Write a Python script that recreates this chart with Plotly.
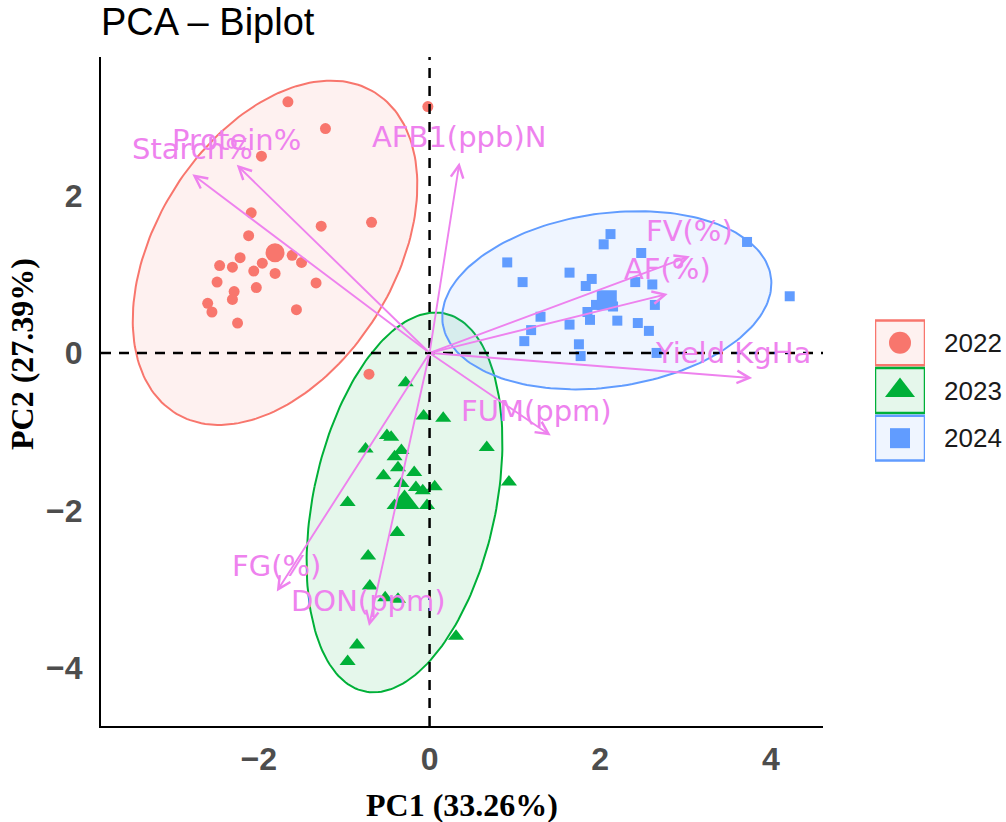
import numpy as np
import plotly.graph_objects as go

# ---- individuals (PC scores) per year ----
YEARS = ["2022", "2023", "2024"]

pc1_2022 = [-1.66, -1.22, -0.02, -1.97, -2.09, -1.27, -0.68, -2.12, -2.22, -2.46, -2.31, -1.96, -2.06,
            -1.61, -1.50, -1.81, -2.49, -2.03, -1.33, -2.29, -2.31, -2.60, -2.55, -1.56, -2.25, -0.71]
pc2_2022 = [3.19, 2.85, 3.13, 2.50, 1.78, 1.61, 1.66, 1.49, 1.21, 1.11, 1.09, 1.14, 1.04,
            1.24, 1.15, 1.01, 0.90, 0.83, 0.89, 0.78, 0.68, 0.63, 0.52, 0.55, 0.38, -0.27]

pc1_2023 = [-0.28, -0.07, 0.16, -0.50, -0.45, -0.75, 0.67, -0.33, -0.41, -0.37, -0.54, -0.18, -0.33, -0.16,
            -0.08, 0.06, 0.93, -0.96, -0.03, -0.41, -0.38, -0.72, -0.70, -0.52, -0.37, 0.31, -0.85, -0.96]
pc2_2023 = [-0.38, -0.80, -0.83, -1.05, -1.07, -1.22, -1.20, -1.24, -1.32, -1.46, -1.56, -1.52, -1.66, -1.71,
            -1.75, -1.70, -1.64, -1.90, -1.94, -1.94, -2.28, -2.58, -2.96, -3.11, -3.13, -3.60, -3.71, -3.92]

pc1_2024 = [2.12, 2.04, 2.48, 0.91, 3.72, 1.09, 1.64, 1.90, 1.83, 2.41, 2.61, 4.22, 1.95, 2.15,
            2.64, 1.30, 1.19, 1.11, 1.64, 1.88, 1.85, 2.20, 2.44, 2.57, 1.75, 1.77, 2.66]
pc2_2024 = [1.51, 1.38, 1.27, 1.15, 1.41, 0.90, 1.02, 0.94, 0.85, 0.90, 0.87, 0.72, 0.61, 0.59,
            0.61, 0.46, 0.29, 0.15, 0.36, 0.42, 0.52, 0.41, 0.38, 0.28, 0.11, -0.04, 0.00]

# ---- variables (loading arrows) ----
VARIABLES = ["Starch%", "Protein%", "AFB1(ppb)N", "FV(%)", "AF(%)",
             "Yield KgHa", "FUM(ppm)", "FG(%)", "DON(ppm)"]
VAR_PC1 = [-2.78, -2.26, 0.35, 3.05, 2.79, 3.78, 1.42, -1.79, -0.71]
VAR_PC2 = [2.27, 2.39, 2.42, 1.23, 0.75, -0.32, -1.05, -3.03, -3.47]

X_TICKS = [-2, 0, 2, 4]
Y_TICKS = [-4, -2, 0, 2]

SCORES = {
    "2022": (pc1_2022, pc2_2022),
    "2023": (pc1_2023, pc2_2023),
    "2024": (pc1_2024, pc2_2024),
}

# ---- styling ----
COLORS = {"2022": "#F8766D", "2023": "#00B038", "2024": "#619CFF"}
SYMBOLS = {"2022": "circle", "2023": "triangle-up", "2024": "square"}
PT_SIZE = {"2022": 11, "2023": 14, "2024": 10}
MEAN_SIZE = {"2022": 19, "2023": 26, "2024": 20}
KEY_SIZE = {"2022": 22, "2023": 26, "2024": 20}
VIOLET = "#EE82EE"
LABEL_NUDGE = {"Yield KgHa": -19, "FUM(ppm)": -14}

W, H = 1006, 822
ML, MR, MT, MB = 101, 0, 57, 96
PW, PH = W - ML - MR, H - MT - MB
PLOT_RIGHT = 823

# legend block geometry (pixels)
KEY_LEFT, KEY_RIGHT = 875, 925
KEY_TOP, KEY_BOTTOM = 319, 462


def rgba(hex_color, a):
    h = hex_color.lstrip("#")
    r, g, b = int(h[0:2], 16), int(h[2:4], 16), int(h[4:6], 16)
    return f"rgba({r},{g},{b},{a})"


def norm_ellipse(x, y, level=0.95, npts=200):
    """Normal-theory data ellipse (as in stat_ellipse type='norm')."""
    pts = np.column_stack([x, y])
    n = len(pts)
    center = pts.mean(axis=0)
    cov = np.cov(pts, rowvar=False)
    d2 = n - 1
    fq = d2 / 2.0 * ((1 - level) ** (-2.0 / d2) - 1.0)  # F(2, n-1) quantile
    radius = np.sqrt(2 * fq)
    vals, vecs = np.linalg.eigh(cov)
    t = np.linspace(0, 2 * np.pi, npts)
    circle = np.vstack([np.cos(t), np.sin(t)])
    ell = (vecs @ np.diag(np.sqrt(vals)) @ circle) * radius
    return ell[0] + center[0], ell[1] + center[1]


fig = go.Figure()

# ellipses
for yr in YEARS:
    xs, ys = SCORES[yr]
    ex, ey = norm_ellipse(xs, ys)
    fig.add_trace(go.Scatter(
        x=ex, y=ey, mode="lines", fill="toself",
        fillcolor=rgba(COLORS[yr], 0.1),
        line=dict(color=COLORS[yr], width=2),
        hoverinfo="skip", showlegend=False))

# individual points and group means
for yr in YEARS:
    xs, ys = SCORES[yr]
    fig.add_trace(go.Scatter(
        x=xs, y=ys, mode="markers", name=yr,
        marker=dict(symbol=SYMBOLS[yr], size=PT_SIZE[yr], color=COLORS[yr], line=dict(width=0)),
        showlegend=False))
    fig.add_trace(go.Scatter(
        x=[float(np.mean(xs))], y=[float(np.mean(ys))], mode="markers",
        marker=dict(symbol=SYMBOLS[yr], size=MEAN_SIZE[yr], color=COLORS[yr], line=dict(width=0)),
        hoverinfo="skip", showlegend=False))

# reference lines through the origin
shapes = [
    dict(type="line", xref="x", yref="paper", x0=0, x1=0, y0=0, y1=1, layer="above",
         line=dict(color="black", width=2.5, dash="10px,8px")),
    dict(type="line", xref="paper", yref="y", x0=0, x1=(PLOT_RIGHT - ML) / PW, y0=0, y1=0, layer="above",
         line=dict(color="black", width=2.5, dash="10px,8px")),
]

annotations = []
# variable arrows and their labels
for name, vx, vy in zip(VARIABLES, VAR_PC1, VAR_PC2):
    annotations.append(dict(
        x=vx, y=vy, ax=0, ay=0, xref="x", yref="y", axref="x", ayref="y",
        text="", showarrow=True, arrowhead=5, arrowsize=1.3, arrowwidth=1.9,
        arrowcolor=VIOLET, standoff=0, startstandoff=0))
    annotations.append(dict(
        x=vx, y=vy, xref="x", yref="y", text=name, showarrow=False,
        xanchor="center", yanchor="middle", xshift=LABEL_NUDGE.get(name, 0), yshift=25,
        font=dict(family="DejaVu Sans", size=29, color=VIOLET)))

# axis titles
annotations.append(dict(
    text="PC1 (33.26%)", xref="paper", yref="paper",
    x=((ML + PLOT_RIGHT) / 2 - ML) / PW, y=(H - MB - 805) / PH,
    showarrow=False, xanchor="center", yanchor="middle",
    font=dict(family="Liberation Serif", size=32, color="black", weight="bold")))
annotations.append(dict(
    text="PC2 (27.39%)", xref="paper", yref="paper",
    x=(22 - ML) / PW, y=(H - MB - 354) / PH, textangle=-90,
    showarrow=False, xanchor="center", yanchor="middle",
    font=dict(family="Liberation Serif", size=32, color="black", weight="bold")))

# legend: boxed keys on a small auxiliary axis pair, labels in paper space
n_keys = len(YEARS)
row_px = (KEY_BOTTOM - KEY_TOP) / n_keys
for i, yr in enumerate(YEARS):
    shapes.append(dict(
        type="rect", xref="x2", yref="y2", x0=0, x1=1, y0=i - 0.47, y1=i + 0.47,
        fillcolor=rgba(COLORS[yr], 0.1), line=dict(color=COLORS[yr], width=2.5), layer="below"))
    fig.add_trace(go.Scatter(
        x=[0.5], y=[i], xaxis="x2", yaxis="y2", mode="markers",
        marker=dict(symbol=SYMBOLS[yr], size=KEY_SIZE[yr], color=COLORS[yr], line=dict(width=0)),
        hoverinfo="skip", showlegend=False))
    row_center = KEY_TOP + (i + 0.5) * row_px
    annotations.append(dict(
        text=yr, xref="paper", yref="paper",
        x=(942 - ML) / PW, y=(H - MB - row_center) / PH, showarrow=False,
        xanchor="left", yanchor="middle",
        font=dict(family="Liberation Sans", size=26, color="#1A1A1A")))

tickfont = dict(family="Liberation Sans", size=32, color="#4D4D4D", weight="bold")

fig.update_layout(
    width=W, height=H,
    margin=dict(l=ML, r=MR, t=MT, b=MB),
    paper_bgcolor="white", plot_bgcolor="white",
    showlegend=False,
    title=dict(text="PCA – Biplot", x=0, xref="paper", xanchor="left",
               y=1 - 22 / H, yref="container", yanchor="middle",
               font=dict(family="Liberation Sans", size=38, color="black")),
    xaxis=dict(domain=[0, (PLOT_RIGHT - ML) / PW], range=[-3.85, 4.61],
               tickvals=X_TICKS, ticktext=[("−" if v < 0 else "") + str(abs(v)) for v in X_TICKS],
               showgrid=False, zeroline=False, showline=True, linecolor="black", linewidth=2,
               ticks="", tickfont=tickfont, ticklabelstandoff=4, fixedrange=True),
    yaxis=dict(domain=[0, 1], range=[-4.74, 3.76],
               tickvals=Y_TICKS, ticktext=[("−" if v < 0 else "") + str(abs(v)) for v in Y_TICKS],
               showgrid=False, zeroline=False, showline=True, linecolor="black", linewidth=2,
               ticks="", tickfont=tickfont, ticklabelstandoff=10, fixedrange=True),
    xaxis2=dict(domain=[(KEY_LEFT - ML) / PW, (KEY_RIGHT - ML) / PW], range=[0, 1], anchor="y2",
                visible=False, fixedrange=True),
    yaxis2=dict(domain=[(H - MB - KEY_BOTTOM) / PH, (H - MB - KEY_TOP) / PH],
                range=[n_keys - 0.5, -0.5], anchor="x2", visible=False, fixedrange=True),
    shapes=shapes,
    annotations=annotations,
)

fig.write_html("out.html")
